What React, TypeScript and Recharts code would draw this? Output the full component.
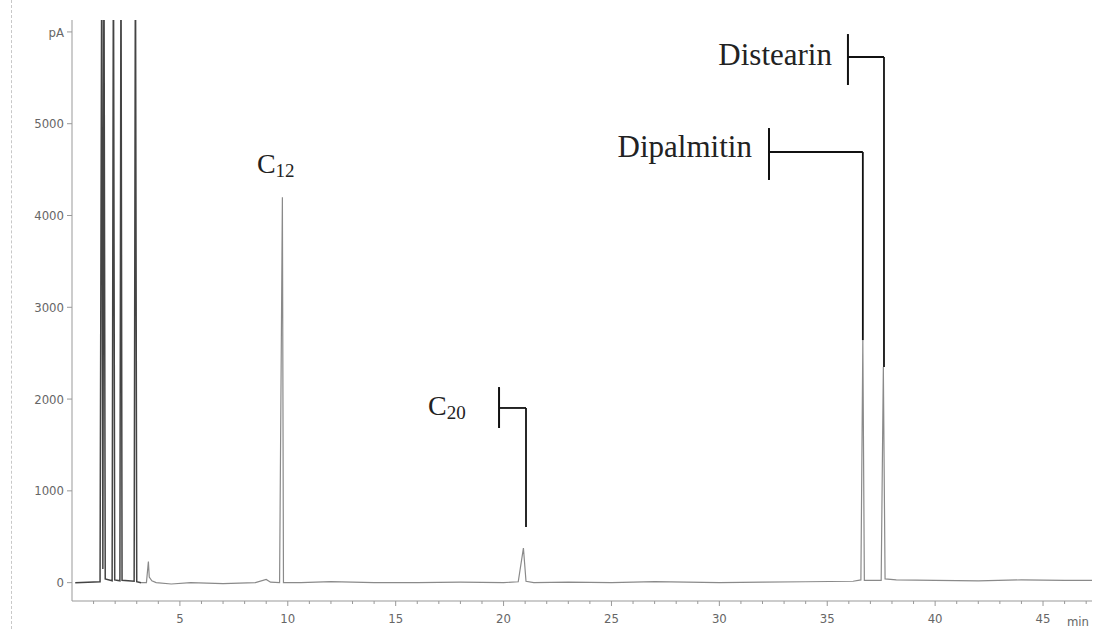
import React from 'react';
import { LineChart, Line, XAxis, YAxis, ReferenceLine, ReferenceDot } from 'recharts';

// retention time (min) / detector signal (pA)
const solventTime = [0.15, 1.3, 1.38, 1.43, 1.48, 1.54, 1.86, 1.92, 1.98, 2.22, 2.27, 2.32, 2.88, 2.94, 3.0, 3.2];
const solventSignal = [0, 10, 7000, 150, 7000, 40, 20, 7000, 30, 20, 7000, 25, 15, 7000, 10, 0];

const traceTime = [
  3.2, 3.45, 3.54, 3.58, 3.7, 3.9, 4.6, 5.5, 7.0, 8.5,
  9.0, 9.2, 9.62, 9.75, 9.8, 10.6, 12, 14, 16, 18,
  20.0, 20.68, 20.92, 21.04, 21.4, 23, 25, 27, 30, 32,
  34, 36.2, 36.56, 36.65, 36.72, 37.5, 37.6, 37.68, 38.2, 40,
  42, 44, 46, 47.3,
];
const traceSignal = [
  0, 0, 230, 60, 20, 0, -15, 0, -10, 0,
  35, 5, 0, 4200, 0, 0, 10, 0, 0, 5,
  0, 10, 377, 15, 0, 5, 0, 10, 0, 5,
  10, 15, 30, 2643, 25, 25, 2349, 40, 30, 25,
  20, 30, 25, 25,
];

const yTicks = [0, 1000, 2000, 3000, 4000, 5000, 6000];
const xMajorTicks = [5, 10, 15, 20, 25, 30, 35, 40, 45];
const xMinorTicks = [
  1, 2, 3, 4, 5, 6, 7, 8, 9, 10, 11, 12, 13, 14, 15, 16, 17, 18, 19, 20, 21, 22, 23, 24,
  25, 26, 27, 28, 29, 30, 31, 32, 33, 34, 35, 36, 37, 38, 39, 40, 41, 42, 43, 44, 45, 46, 47,
];

// annotation layout (in data units)
const brackets = [
  { bar: [19.79, 2131, 1685], hy: 1903, px: 21.04, end: 606 },
  { bar: [32.3, 4953, 4387], hy: 4692, px: 36.65, end: 2643 },
  { bar: [35.96, 5977, 5422], hy: 5727, px: 37.63, end: 2349 },
];
const nameLabels = [
  { text: 'Dipalmitin', x: 31.51, y: 4637 },
  { text: 'Distearin', x: 35.22, y: 5639 },
];
const carbonLabels = [
  { sub: '12', x: 8.57, y: 4463 },
  { sub: '20', x: 16.5, y: 1826 },
];

const toPoints = (t: number[], v: number[]) => t.map((x, i) => ({ t: x, v: v[i] }));
const solventData = toPoints(solventTime, solventSignal);
const traceData = toPoints(traceTime, traceSignal);

const AXIS_FONT = "'Liberation Sans Narrow', 'DejaVu Sans Condensed', 'Arial Narrow', sans-serif";
const SERIF = "'Liberation Serif', 'Times New Roman', serif";
const AXIS_COLOR = '#999';

const XTick = (props: any) => {
  const { x, y, payload } = props;
  const major = xMajorTicks.includes(payload.value);
  return (
    <g>
      <line x1={x} x2={x} y1={y} y2={y + (major ? 5 : 3)} stroke={AXIS_COLOR} />
      {major && (
        <text x={x} y={y + 22} textAnchor="middle" fontSize={13} fill="#666" fontFamily={AXIS_FONT}>
          {payload.value}
        </text>
      )}
    </g>
  );
};

export default function App() {
  return (
    <div style={{ position: 'absolute', left: 0, top: 0, width: 1094, height: 629, background: '#fff' }}>
      <div style={{ position: 'absolute', left: 11, top: 0, height: 629, borderLeft: '1px dashed #c8c8c8' }} />
      <LineChart width={1094} height={629} margin={{ top: 20, right: 2, bottom: 0, left: 0 }}>
        <XAxis
          type="number"
          dataKey="t"
          domain={[0, 47.27]}
          ticks={xMinorTicks}
          interval={0}
          tick={<XTick />}
          tickLine={false}
          tickSize={0}
          tickMargin={0}
          stroke={AXIS_COLOR}
          height={28}
          allowDataOverflow
          label={{ value: 'min', position: 'insideBottomRight', offset: 3, fill: '#666', fontSize: 13, fontFamily: AXIS_FONT }}
        />
        <YAxis
          type="number"
          domain={[-200, 6130]}
          ticks={yTicks}
          interval={0}
          width={72}
          tickSize={5}
          tickMargin={3}
          stroke={AXIS_COLOR}
          allowDataOverflow
          tickFormatter={(v: number) => (v === 6000 ? 'pA' : String(v))}
          tick={{ fontSize: 13, fill: '#666', fontFamily: AXIS_FONT }}
        />
        <Line
          data={traceData}
          dataKey="v"
          type="linear"
          stroke="#8a8a8a"
          strokeWidth={1.2}
          dot={false}
          activeDot={false}
          isAnimationActive={false}
        />
        <Line
          data={solventData}
          dataKey="v"
          type="linear"
          stroke="#444"
          strokeWidth={1.5}
          dot={false}
          activeDot={false}
          isAnimationActive={false}
        />
        {brackets.map((b, i) => [
          <ReferenceLine
            key={`bar-${i}`}
            segment={[{ x: b.bar[0], y: b.bar[1] }, { x: b.bar[0], y: b.bar[2] }]}
            stroke="#111"
            strokeWidth={2}
          />,
          <ReferenceLine
            key={`h-${i}`}
            segment={[{ x: b.bar[0], y: b.hy }, { x: b.px, y: b.hy }]}
            stroke="#111"
            strokeWidth={1.8}
          />,
          <ReferenceLine
            key={`v-${i}`}
            segment={[{ x: b.px, y: b.hy }, { x: b.px, y: b.end }]}
            stroke="#111"
            strokeWidth={1.8}
          />,
        ])}
        {nameLabels.map((l) => (
          <ReferenceDot
            key={l.text}
            x={l.x}
            y={l.y}
            r={0}
            shape={(p: any) => (
              <text x={p.cx} y={p.cy} textAnchor="end" fontSize={31} fill="#222" fontFamily={SERIF}>
                {l.text}
              </text>
            )}
          />
        ))}
        {carbonLabels.map((l) => (
          <ReferenceDot
            key={l.sub}
            x={l.x}
            y={l.y}
            r={0}
            shape={(p: any) => (
              <text x={p.cx} y={p.cy} textAnchor="start" fontSize={28} fill="#222" fontFamily={SERIF}>
                <tspan>C</tspan>
                <tspan dy={4} fontSize={19}>{l.sub}</tspan>
              </text>
            )}
          />
        ))}
      </LineChart>
    </div>
  );
}
